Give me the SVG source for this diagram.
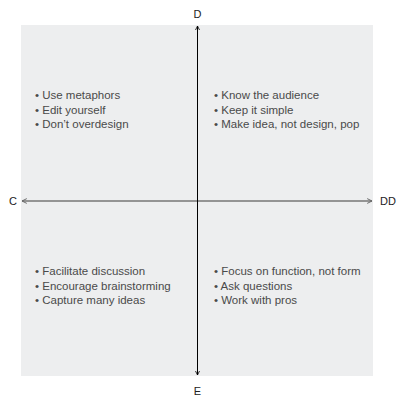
<svg xmlns="http://www.w3.org/2000/svg" width="408" height="411" viewBox="0 0 408 411">
<style>
.item{font-family:"Liberation Sans",Arial,sans-serif;font-size:11.5px;fill:#4a4a4a}
.axis{font-family:"Liberation Sans",Arial,sans-serif;font-size:11px;fill:#222}
</style>
<defs>
<marker id="ahK" viewBox="0 0 10 10" refX="9" refY="5" markerWidth="5" markerHeight="5" orient="auto-start-reverse" markerUnits="userSpaceOnUse">
<path d="M1,1 L9,5 L1,9" fill="none" stroke="#000" stroke-width="1.6"/>
</marker>
<marker id="ahG" viewBox="0 0 10 10" refX="9" refY="5" markerWidth="6" markerHeight="6" orient="auto-start-reverse" markerUnits="userSpaceOnUse">
<path d="M1,1 L9,5 L1,9" fill="none" stroke="#666" stroke-width="1.6"/>
</marker>
</defs>
<rect id="background" x="21" y="25" width="352" height="351" fill="#edeeef"/>
<g id="connectors">
<line x1="22" y1="201" x2="372" y2="201" stroke="#767676" stroke-width="1.4" marker-start="url(#ahG)" marker-end="url(#ahG)"/>
<line x1="197.5" y1="26" x2="197.5" y2="375" stroke="#000" stroke-width="1" marker-start="url(#ahK)" marker-end="url(#ahK)"/>
</g>
<g id="axis-D"><text class="axis" x="197.5" y="18" text-anchor="middle">D</text></g>
<g id="axis-C"><text class="axis" x="9" y="205">C</text></g>
<g id="axis-DD"><text class="axis" x="380" y="205">DD</text></g>
<g id="axis-E"><text class="axis" x="197.5" y="395" text-anchor="middle">E</text></g>
<g id="quadrant-top-left">
<text class="item" x="35" y="99">• Use metaphors</text>
<text class="item" x="35" y="113.5">• Edit yourself</text>
<text class="item" x="35" y="128">• Don’t overdesign</text>
</g>
<g id="quadrant-top-right">
<text class="item" x="214" y="99">• Know the audience</text>
<text class="item" x="214" y="113.5">• Keep it simple</text>
<text class="item" x="214" y="128">• Make idea, not design, pop</text>
</g>
<g id="quadrant-bottom-left">
<text class="item" x="35" y="275">• Facilitate discussion</text>
<text class="item" x="35" y="289.5">• Encourage brainstorming</text>
<text class="item" x="35" y="304">• Capture many ideas</text>
</g>
<g id="quadrant-bottom-right">
<text class="item" x="214" y="275">• Focus on function, not form</text>
<text class="item" x="214" y="289.5">• Ask questions</text>
<text class="item" x="214" y="304">• Work with pros</text>
</g>
</svg>
